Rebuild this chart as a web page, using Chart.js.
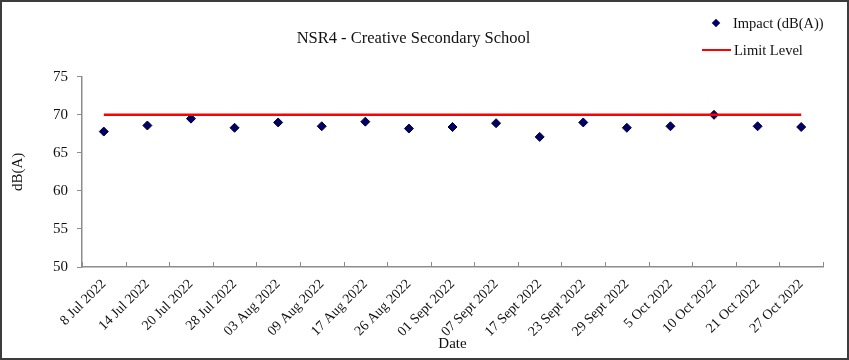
<!DOCTYPE html>
<html>
<head>
<meta charset="utf-8">
<script src="https://cdn.jsdelivr.net/npm/chart.js@4"></script>
<style>
  html, body { margin: 0; padding: 0; background: #fff; }
  #wrap { position: relative; width: 849px; height: 360px; }
  #frame { position: absolute; left: 0; top: 0; width: 849px; height: 360px; box-sizing: border-box; border: 2px solid #3c3c3c; pointer-events: none; }
  .legend { position: absolute; font-family: 'Liberation Serif', serif; font-size: 14.5px; color: #111; white-space: nowrap; }
  .legend .row { position: absolute; left: 0; height: 16px; line-height: 16px; }
  .diamond { position: absolute; width: 6px; height: 6px; background: #000066; transform: rotate(45deg); }
  .redline { position: absolute; width: 29px; height: 2px; background: #ff0000; }
</style>
</head>
<body>
<div id="wrap">
  <canvas id="chart" width="849" height="360"></canvas>
  <div class="legend" style="left:700px; top:0;">
    <div class="diamond" style="left:13px; top:20px;"></div>
    <div class="row" style="left:33px; top:15px;">Impact (dB(A))</div>
    <div class="redline" style="left:2px; top:49px;"></div>
    <div class="row" style="left:34px; top:42px;">Limit Level</div>
  </div>
  <div id="frame"></div>
</div>
<script>
const dates = [
  '8 Jul 2022', '14 Jul 2022', '20 Jul 2022', '28 Jul 2022', '03 Aug 2022',
  '09 Aug 2022', '17 Aug 2022', '26 Aug 2022', '01 Sept 2022', '07 Sept 2022',
  '17 Sept 2022', '23 Sept 2022', '29 Sept 2022', '5 Oct 2022', '10 Oct 2022',
  '21 Oct 2022', '27 Oct 2022',
];
const impact = [67.8, 68.6, 69.5, 68.3, 69.0, 68.5, 69.1, 68.2, 68.4, 68.9, 67.1, 69.0, 68.3, 68.5, 70.0, 68.5, 68.4];
const limitLevel = [70, 70, 70, 70, 70, 70, 70, 70, 70, 70, 70, 70, 70, 70, 70, 70, 70];
const yTicks = [50, 55, 60, 65, 70, 75];

const serif = "'Liberation Serif', serif";
const axisColor = '#8c8c8c';

// x tick marks point up into the plot, at category boundaries
const innerTicks = {
  id: 'innerTicks',
  afterDraw(chart) {
    const x = chart.scales.x;
    const ctx = chart.ctx;
    ctx.save();
    ctx.strokeStyle = axisColor;
    ctx.lineWidth = 1;
    for (let i = 0; i <= dates.length; i++) {
      const px = Math.round(x.getPixelForValue(i - 0.5)) + 0.5;
      ctx.beginPath();
      ctx.moveTo(px, x.top);
      ctx.lineTo(px, x.top - 5);
      ctx.stroke();
    }
    ctx.restore();
  },
};

new Chart(document.getElementById('chart'), {
  type: 'line',
  data: {
    labels: dates,
    datasets: [
      {
        label: 'Limit Level',
        data: limitLevel,
        borderColor: '#ff0000',
        borderWidth: 2.5,
        pointRadius: 0,
        fill: false,
      },
      {
        label: 'Impact (dB(A))',
        data: impact,
        showLine: false,
        pointStyle: 'rectRot',
        pointRadius: 4.5,
        pointBackgroundColor: '#000066',
        pointBorderColor: '#000033',
        pointBorderWidth: 1,
      },
    ],
  },
  options: {
    responsive: false,
    animation: false,
    layout: { padding: { left: 4, right: 26, top: 0, bottom: 0 } },
    plugins: {
      legend: { display: false },
      tooltip: { enabled: false },
      title: {
        display: true,
        text: 'NSR4 - Creative Secondary School',
        color: '#111',
        font: { family: serif, size: 16.5, weight: 'normal' },
        padding: { top: 29, bottom: 28 },
      },
    },
    scales: {
      x: {
        offset: true,
        afterFit: (s) => { s.height = 93; },
        grid: { display: false, drawTicks: false },
        border: { color: axisColor, width: 1.5 },
        ticks: {
          autoSkip: false,
          minRotation: 45,
          maxRotation: 45,
          padding: 9,
          color: '#111',
          font: { family: serif, size: 14 },
        },
        title: {
          display: true,
          text: 'Date',
          color: '#111',
          font: { family: serif, size: 15 },
          padding: { top: 0, bottom: 7 },
        },
      },
      y: {
        min: 50,
        max: 75,
        afterFit: (s) => { s.width = 78; },
        afterBuildTicks: (s) => { s.ticks = yTicks.map((v) => ({ value: v })); },
        grid: { drawOnChartArea: false, tickLength: 5, color: axisColor },
        border: { color: axisColor, width: 1.5 },
        ticks: {
          padding: 9,
          color: '#111',
          font: { family: serif, size: 15 },
        },
        title: {
          display: true,
          text: 'dB(A)',
          color: '#111',
          font: { family: serif, size: 15 },
          padding: { top: 5, bottom: 0 },
        },
      },
    },
  },
  plugins: [innerTicks],
});
</script>
</body>
</html>
